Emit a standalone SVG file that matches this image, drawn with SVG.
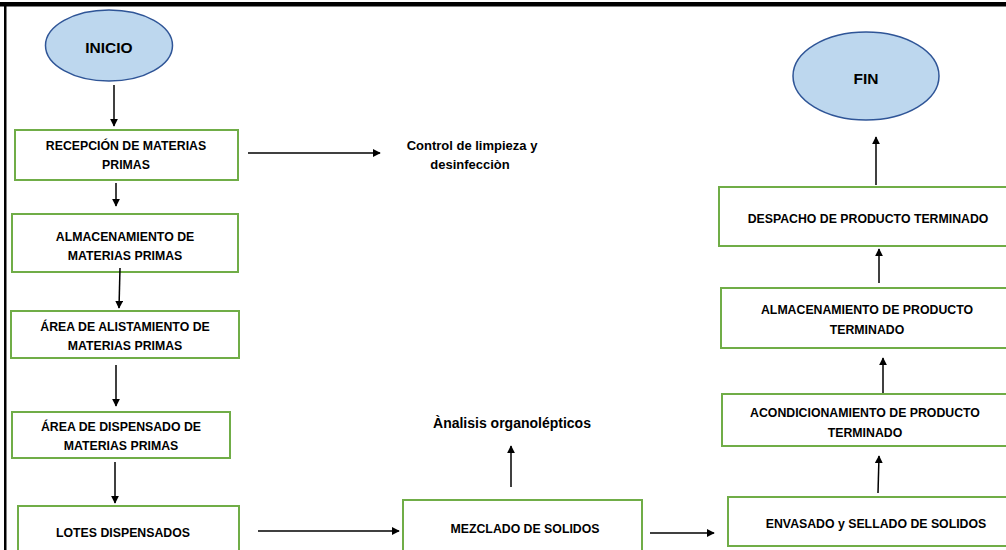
<svg xmlns="http://www.w3.org/2000/svg" width="1006" height="550" viewBox="0 0 1006 550">
<defs>
<marker id="ah" viewBox="0 0 10 10" refX="9" refY="5" markerWidth="8" markerHeight="8" markerUnits="userSpaceOnUse" orient="auto">
<path d="M0,0 L10,5 L0,10 z" fill="#000"/>
</marker>
<style>
.box{fill:#fff;stroke:#70AD47;stroke-width:2}
.oval{fill:#BDD7EE;stroke:#2F5597;stroke-width:1.5}
.t{font-family:"Liberation Sans",Arial,sans-serif;font-weight:bold;font-size:12.3px;fill:#000;text-anchor:middle}
.tl{font-family:"Liberation Sans",Arial,sans-serif;font-weight:bold;font-size:13px;fill:#000;text-anchor:middle}
.tb{font-family:"Liberation Sans",Arial,sans-serif;font-weight:bold;font-size:15.5px;fill:#000;text-anchor:middle}
.c{stroke:#000;stroke-width:1.5;fill:none;marker-end:url(#ah)}
</style>
</defs>
<rect width="1006" height="550" fill="#fff"/>
<g id="frame">
<rect x="0" y="2" width="1006" height="4.5" fill="#000"/>
<rect x="4" y="2" width="2.5" height="548" fill="#000"/>
</g>
<g id="inicio">
<ellipse class="oval" cx="109" cy="45.5" rx="63.5" ry="35.5"/>
<text class="tb" x="109" y="52.5">INICIO</text>
</g>
<g id="recepcion">
<rect class="box" x="15" y="130" width="223" height="50"/>
<text class="t" x="126" y="150">RECEPCIÓN DE MATERIAS</text>
<text class="t" x="126" y="169">PRIMAS</text>
</g>
<g id="control">
<text class="tl" x="472" y="149.5">Control de limpieza y</text>
<text class="tl" x="470" y="168.5">desinfecciòn</text>
</g>
<g id="almacenamiento-mp">
<rect class="box" x="12" y="214" width="226" height="58"/>
<text class="t" x="125" y="241">ALMACENAMIENTO DE</text>
<text class="t" x="125" y="259.5">MATERIAS PRIMAS</text>
</g>
<g id="alistamiento">
<rect class="box" x="11" y="311" width="228" height="47"/>
<text class="t" x="125" y="331">ÁREA DE ALISTAMIENTO DE</text>
<text class="t" x="125" y="350">MATERIAS PRIMAS</text>
</g>
<g id="dispensado">
<rect class="box" x="12" y="412" width="218" height="46"/>
<text class="t" x="121" y="431">ÁREA DE DISPENSADO DE</text>
<text class="t" x="121" y="449.5">MATERIAS PRIMAS</text>
</g>
<g id="lotes">
<rect class="box" x="18" y="506" width="221" height="60"/>
<text class="t" x="123" y="536.5">LOTES DISPENSADOS</text>
</g>
<g id="mezclado">
<rect class="box" x="403" y="500" width="239" height="66"/>
<text class="t" x="525" y="532.5">MEZCLADO DE SOLIDOS</text>
</g>
<g id="analisis">
<text class="tl" x="512" y="428" style="font-size:14px">Ànalisis organolépticos</text>
</g>
<g id="envasado">
<rect class="box" x="728" y="497" width="290" height="49"/>
<text class="t" x="876" y="527.5">ENVASADO y SELLADO DE SOLIDOS</text>
</g>
<g id="acondicionamiento">
<rect class="box" x="722" y="394" width="296" height="52"/>
<text class="t" x="865" y="416.5">ACONDICIONAMIENTO DE PRODUCTO</text>
<text class="t" x="865" y="436.5">TERMINADO</text>
</g>
<g id="almacenamiento-pt">
<rect class="box" x="721" y="288" width="297" height="60"/>
<text class="t" x="867" y="313.5">ALMACENAMIENTO DE PRODUCTO</text>
<text class="t" x="867" y="333.5">TERMINADO</text>
</g>
<g id="despacho">
<rect class="box" x="719" y="187" width="299" height="59"/>
<text class="t" x="868" y="222.5">DESPACHO DE PRODUCTO TERMINADO</text>
</g>
<g id="fin">
<ellipse class="oval" cx="866" cy="76" rx="73" ry="44"/>
<text class="tb" x="866" y="83.5">FIN</text>
</g>
<g id="connectors">
<line class="c" x1="114" y1="85" x2="114" y2="126"/>
<line class="c" x1="248" y1="153" x2="380" y2="153"/>
<line class="c" x1="116" y1="183" x2="116" y2="206"/>
<line class="c" x1="120" y1="268" x2="119" y2="308"/>
<line class="c" x1="116" y1="365" x2="116" y2="406"/>
<line class="c" x1="115" y1="462" x2="115" y2="503"/>
<line class="c" x1="258" y1="531" x2="399" y2="531"/>
<line class="c" x1="511" y1="487" x2="511" y2="446"/>
<line class="c" x1="650" y1="533" x2="714" y2="533"/>
<line class="c" x1="878" y1="493" x2="879" y2="456"/>
<line class="c" x1="883" y1="393" x2="883" y2="358"/>
<line class="c" x1="879" y1="283" x2="879" y2="249"/>
<line class="c" x1="876" y1="185" x2="876" y2="137"/>
</g>
</svg>
